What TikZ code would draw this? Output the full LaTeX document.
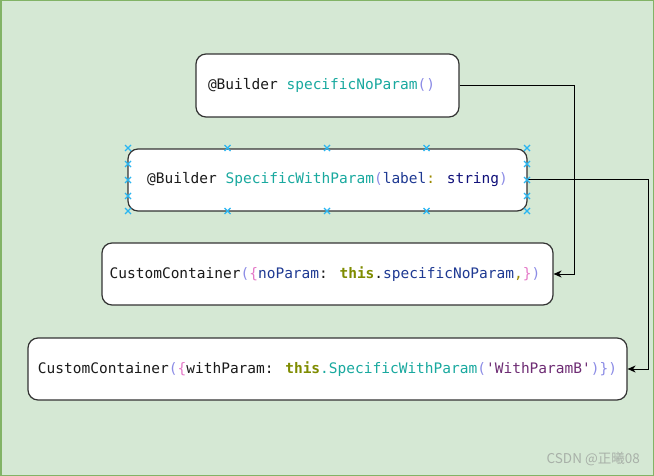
\documentclass[tikz,border=0pt]{standalone}
\usepackage{fontspec}
\usetikzlibrary{arrows.meta}
\newfontfamily\codefont{DejaVu Sans Mono}
\newfontfamily\cjkfont{Noto Sans CJK SC}
\definecolor{bgfill}{HTML}{D5E8D4}
\definecolor{bgline}{HTML}{82B366}
\definecolor{cteal}{HTML}{19A99F}
\definecolor{cparen}{HTML}{8C8CE6}
\definecolor{cvar}{HTML}{1F3A93}
\definecolor{ctype}{HTML}{10107A}
\definecolor{ckw}{HTML}{7F8C00}
\definecolor{cpunct}{HTML}{9C8A00}
\definecolor{cbrace}{HTML}{E57AC8}
\definecolor{cstr}{HTML}{6E2C74}
\definecolor{cdark}{HTML}{1A1A1A}
\definecolor{chandle}{HTML}{29B6F2}
\definecolor{cwater}{HTML}{A8B0A8}
\tikzset{
  codebox/.style={draw=black!80, line width=1.2pt, fill=white, rounded corners=10pt,
    inner sep=0pt, align=center, font=\codefont\fontsize{14.5}{16}\selectfont, text=cdark},
  conn/.style={draw=black, line width=1pt, -{Stealth[length=8pt,width=7pt,inset=2.5pt]}},
  handle/.style={draw=chandle, line width=1.1pt}
}
\begin{document}
\begin{tikzpicture}[x=1pt,y=-1pt]
\useasboundingbox (0,0) rectangle (654,476);
\fill[bgfill] (0,0) rectangle (654,476);
\draw[bgline, line width=1.5pt] (0.75,0.75) rectangle (653.25,475.25);

\node[codebox, minimum width=263pt, minimum height=63pt] (b1) at (327.5,85.5)
  {@Builder \textcolor{cteal}{specificNoParam}\textcolor{cparen}{()}\hspace*{12pt}};
\node[codebox, minimum width=399pt, minimum height=62pt] (b2) at (327.5,180)
  {@Builder \textcolor{cteal}{SpecificWithParam}\textcolor{cparen}{(}\textcolor{cvar}{label}\textcolor{cpunct}{:} \textcolor{ctype}{string}\textcolor{cparen}{)}};
\node[codebox, minimum width=451pt, minimum height=62pt] (b3) at (327.5,274)
  {CustomContainer\textcolor{cparen}{(}\textcolor{cbrace}{\{}\textcolor{cvar}{noParam}: \textcolor{ckw}{\bfseries this}.\textcolor{cvar}{specificNoParam}\textcolor{cpunct}{,}\textcolor{cbrace}{\}}\textcolor{cparen}{)}\hspace*{5pt}};
\node[codebox, minimum width=599pt, minimum height=62pt] (b4) at (327.5,369)
  {CustomContainer\textcolor{cparen}{(}\textcolor{cbrace}{\{}withParam: \textcolor{ckw}{\bfseries this}\textcolor{cteal}{.SpecificWithParam}\textcolor{cparen}{(}\textcolor{cstr}{\symbol{39}WithParamB\symbol{39}}\textcolor{cparen}{)}\textcolor{cparen}{\}}\textcolor{cparen}{)}};

\coordinate (v1) at (574,0);
\coordinate (v2) at (648,0);
\draw[conn] (b1.east) -- (b1.east -| v1) -- (b3.east -| v1) -- (b3.east);
\draw[conn] (b2.east) -- (b2.east -| v2) -- (b4.east -| v2) -- (b4.east);

\foreach \hx in {128,227.5,327,426.5,527} {
  \foreach \hy in {148,211} {
    \draw[handle] (\hx-3,\hy-3) -- (\hx+3,\hy+3) (\hx-3,\hy+3) -- (\hx+3,\hy-3);
  }
}
\foreach \hx in {128,527} {
  \foreach \hy in {164,180,196} {
    \draw[handle] (\hx-3,\hy-3) -- (\hx+3,\hy+3) (\hx-3,\hy+3) -- (\hx+3,\hy-3);
  }
}

\node[anchor=east, text=cwater, font=\cjkfont\fontsize{13.5}{15}\selectfont, inner sep=0pt] (wm) at (640,459) {CSDN @正曦08};
\end{tikzpicture}
\end{document}
